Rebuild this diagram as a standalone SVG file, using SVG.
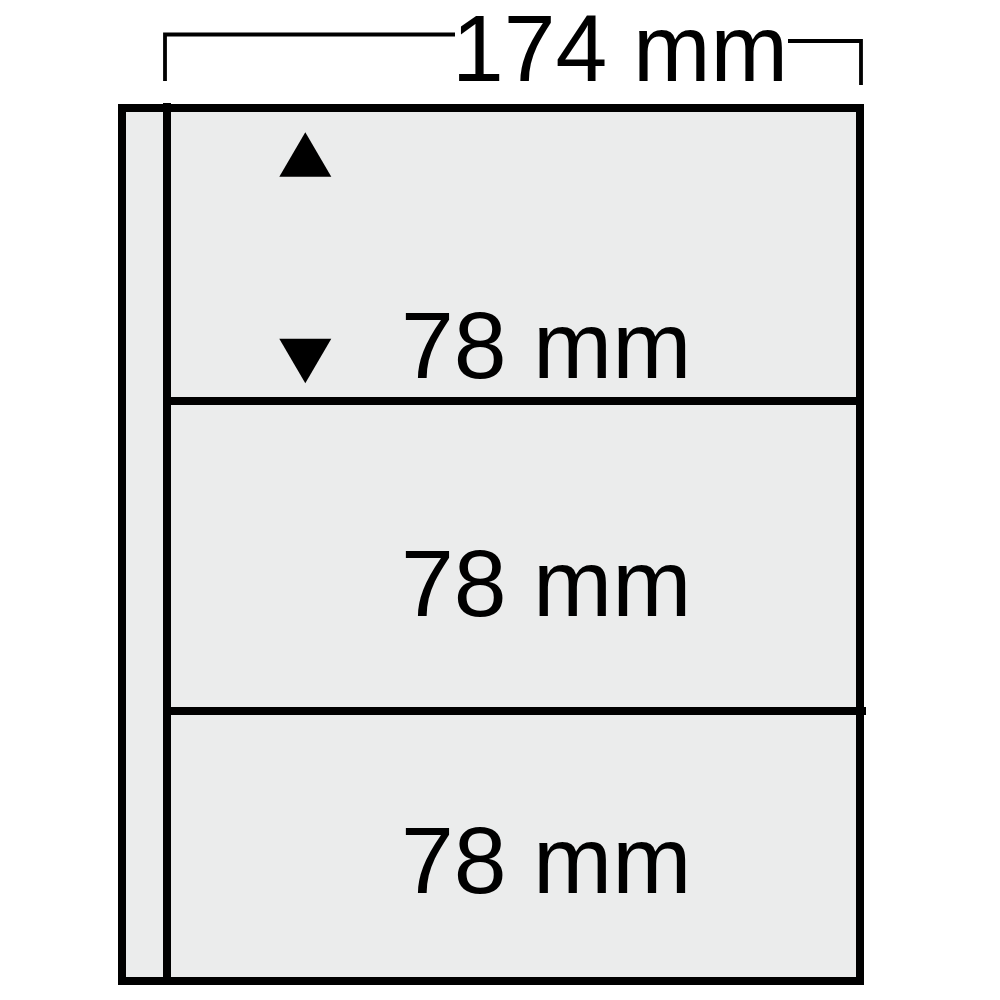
<svg xmlns="http://www.w3.org/2000/svg" width="1000" height="1000" viewBox="0 0 1000 1000">
<style>
.ln{stroke:#000;stroke-width:8;fill:none}
.sheet{stroke:#000;stroke-width:8;fill:#EBECEC}
.dim{stroke:#000;stroke-width:3.8;fill:none}
.lbl{font-family:"Liberation Sans",Arial,sans-serif;font-size:95px;fill:#000}
</style>
<rect width="1000" height="1000" fill="#fff"/>
<g id="sheet">
<rect class="sheet" x="122" y="108" width="738" height="873"/>
</g>
<g id="connectors">
<line class="ln" x1="167" y1="103" x2="167" y2="985"/>
<line class="ln" x1="167" y1="401" x2="864" y2="401"/>
<line class="ln" x1="167" y1="711" x2="866" y2="711"/>
<path class="dim" d="M165,81 V34.5 H455"/>
<path class="dim" d="M788,41 H861 V85"/>
</g>
<g id="width-label">
<text class="lbl" x="452" y="81" textLength="336" lengthAdjust="spacingAndGlyphs">174 mm</text>
</g>
<g id="arrows">
<polygon points="279.3,176.7 305.3,132.3 331.3,176.7" fill="#000"/>
<polygon points="279.3,338.7 331.3,338.7 305.3,383.3" fill="#000"/>
</g>
<g id="pocket1"><text class="lbl" x="401" y="378">78 mm</text></g>
<g id="pocket2"><text class="lbl" x="401" y="616">78 mm</text></g>
<g id="pocket3"><text class="lbl" x="401" y="893">78 mm</text></g>
</svg>
